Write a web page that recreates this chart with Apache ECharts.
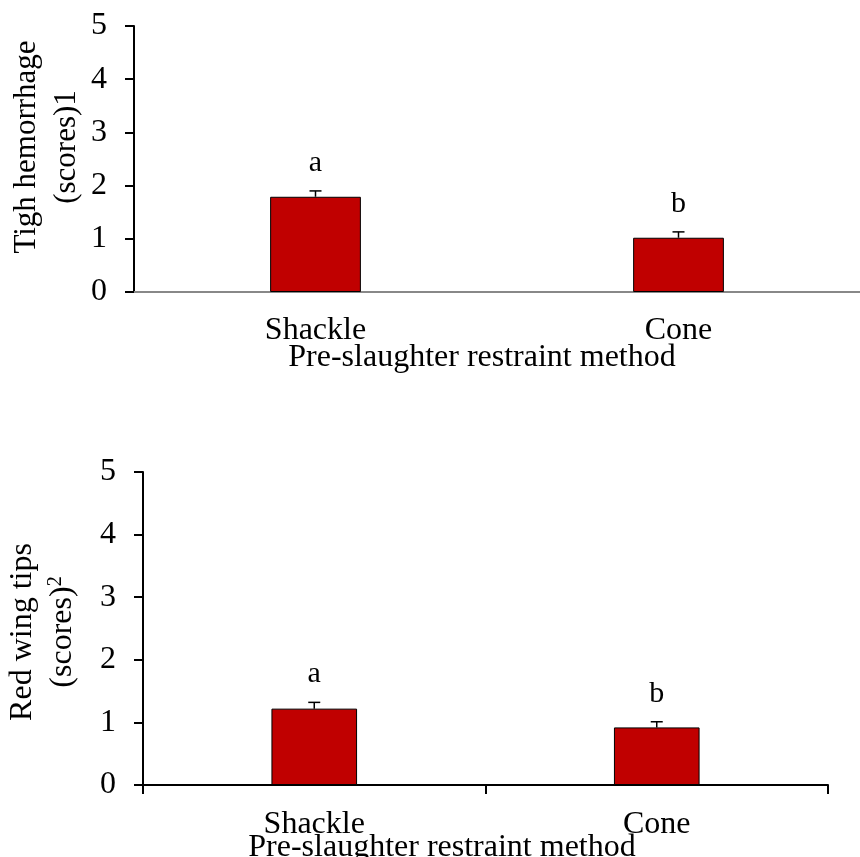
<!DOCTYPE html>
<html>
<head>
<meta charset="utf-8">
<script src="https://cdn.jsdelivr.net/npm/echarts@6/dist/echarts.min.js"></script>
<style>
html,body{margin:0;padding:0;background:#fff;}
#main{width:860px;height:857px;}
</style>
</head>
<body>
<div id="main"></div>
<script>
const categories = ["Shackle", "Cone"];
const yTicks = [0, 1, 2, 3, 4, 5];
// Top panel: thigh hemorrhage
const thighMeans = [1.79, 1.02];
const thighErrors = [0.11, 0.11];
const thighLetters = ["a", "b"];
// Bottom panel: red wing tips
const wingMeans = [1.22, 0.92];
const wingErrors = [0.10, 0.09];
const wingLetters = ["a", "b"];

const FONT = '"Liberation Serif","Times New Roman",serif';
const RED = '#C00000';

function errSeries(xi, yi, means, errs, letters) {
  return {
    type: 'custom', xAxisIndex: xi, yAxisIndex: yi, z: 5,
    data: means.map((m, i) => [i, m, errs[i], letters[i]]),
    renderItem: function (params, api) {
      const x = api.value(0), m = api.value(1), e = api.value(2);
      const base = api.coord([x, m]);
      const top = api.coord([x, m + e]);
      const letter = letters[params.dataIndex];
      return {
        type: 'group',
        children: [
          {type: 'line', shape: {x1: base[0], y1: base[1], x2: top[0], y2: top[1]}, style: {stroke: '#000', lineWidth: 1.5}},
          {type: 'line', shape: {x1: top[0] - 6, y1: top[1], x2: top[0] + 6, y2: top[1]}, style: {stroke: '#000', lineWidth: 1.5}},
          {type: 'text', x: top[0], y: top[1] - 28, style: {text: letter, font: '30px ' + FONT, fill: '#000', textAlign: 'center', textVerticalAlign: 'middle'}}
        ]
      };
    }
  };
}

const chart = echarts.init(document.getElementById('main'), null, {renderer: 'canvas'});
chart.setOption({
  backgroundColor: '#fff',
  animation: false,
  grid: [
    {left: 134, top: 26, width: 738, height: 266},
    {left: 143, top: 472, width: 685, height: 313}
  ],
  xAxis: [
    {
      type: 'category', gridIndex: 0, data: categories,
      axisLine: {lineStyle: {color: '#888', width: 2}},
      axisTick: {show: false},
      axisLabel: {color: '#000', fontFamily: FONT, fontSize: 32, margin: 23}
    },
    {
      type: 'category', gridIndex: 1, data: categories,
      axisLine: {lineStyle: {color: '#000', width: 2}},
      axisTick: {show: true, inside: false, length: 9, lineStyle: {color: '#000', width: 2}},
      axisLabel: {color: '#000', fontFamily: FONT, fontSize: 32, margin: 24}
    }
  ],
  yAxis: [0, 1].map(g => ({
    type: 'value', gridIndex: g, min: yTicks[0], max: yTicks[yTicks.length - 1], interval: 1,
    axisLine: {show: true, lineStyle: {color: '#000', width: 2}},
    axisTick: {show: true, inside: false, length: 9, lineStyle: {color: '#000', width: 2}},
    splitLine: {show: false},
    axisLabel: {color: '#000', fontFamily: FONT, fontSize: 32, margin: 27}
  })),
  series: [
    {type: 'bar', xAxisIndex: 0, yAxisIndex: 0, data: thighMeans, barWidth: '25%',
     itemStyle: {color: RED, borderColor: '#000', borderWidth: 1}},
    errSeries(0, 0, thighMeans, thighErrors, thighLetters),
    {type: 'bar', xAxisIndex: 1, yAxisIndex: 1, data: wingMeans, barWidth: '25%',
     itemStyle: {color: RED, borderColor: '#000', borderWidth: 1}},
    errSeries(1, 1, wingMeans, wingErrors, wingLetters)
  ],
  graphic: [
    {type: 'text', x: 482, y: 358, style: {text: 'Pre-slaughter restraint method', font: '32px ' + FONT, fill: '#000', textAlign: 'center', textVerticalAlign: 'middle'}},
    {type: 'text', x: 442, y: 848, style: {text: 'Pre-slaughter restraint method', font: '32px ' + FONT, fill: '#000', textAlign: 'center', textVerticalAlign: 'middle'}},
    {type: 'text', x: 27, y: 147, rotation: Math.PI / 2, style: {text: 'Tigh hemorrhage', font: '31px ' + FONT, fill: '#000', textAlign: 'center', textVerticalAlign: 'middle'}},
    {type: 'text', x: 67, y: 147, rotation: Math.PI / 2, style: {text: '(scores)1', font: '31px ' + FONT, fill: '#000', textAlign: 'center', textVerticalAlign: 'middle'}},
    {type: 'text', x: 23, y: 632, rotation: Math.PI / 2, style: {text: 'Red wing tips', font: '32px ' + FONT, fill: '#000', textAlign: 'center', textVerticalAlign: 'middle'}},
    {type: 'text', x: 63, y: 632, rotation: Math.PI / 2, style: {
      text: '{n|(scores)}{s|2}', textAlign: 'center', textVerticalAlign: 'middle',
      rich: {
        n: {fontFamily: FONT, fontSize: 32, fill: '#000', color: '#000'},
        s: {fontFamily: FONT, fontSize: 20, fill: '#000', color: '#000', verticalAlign: 'top', padding: [0, 0, 14, 0]}
      }
    }}
  ]
});
</script>
</body>
</html>
